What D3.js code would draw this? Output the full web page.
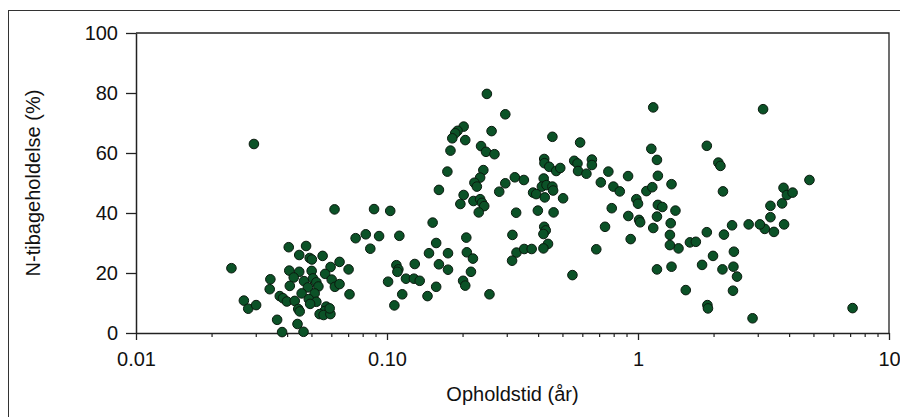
<!DOCTYPE html>
<html>
<head>
<meta charset="utf-8">
<script src="https://cdn.jsdelivr.net/npm/d3@7"></script>
<style>
  html, body { margin: 0; padding: 0; background: #fff; }
  svg { display: block; }
  text { font-family: "Liberation Sans", Arial, sans-serif; fill: #111; }
</style>
</head>
<body>
<svg id="chart" width="900" height="417"></svg>
<script>
// Residence time (years) and N retention (%) per lake
const residenceTime = [
  0.024, 0.0269, 0.028, 0.0301, 0.0343, 0.0341, 0.0365, 0.0382, 0.0406, 0.0476,
  0.0447, 0.0492, 0.0502, 0.0554, 0.0596, 0.0647, 0.0408, 0.0447, 0.0501, 0.0567,
  0.0425, 0.0467, 0.0507, 0.0523, 0.0602, 0.062, 0.0647, 0.041, 0.0484, 0.0533,
  0.0374, 0.0385, 0.0399, 0.0429, 0.0457, 0.0515, 0.0488, 0.0523, 0.0494, 0.0443,
  0.0449, 0.0573, 0.0564, 0.0539, 0.0559, 0.0595, 0.044, 0.0465, 0.0591, 0.0295,
  0.0618, 0.0888, 0.103, 0.075, 0.0823, 0.093, 0.0858, 0.112, 0.0703, 0.0709,
  0.109, 0.111, 0.110, 0.129, 0.101, 0.119, 0.128, 0.135, 0.115, 0.107,
  0.145, 0.157, 0.152, 0.157, 0.147, 0.175, 0.161, 0.175, 0.161,
  0.250, 0.296, 0.202, 0.191, 0.187, 0.182, 0.205, 0.261, 0.179, 0.237,
  0.248, 0.268, 0.456, 0.174, 0.242, 0.235, 0.223, 0.228, 0.202, 0.196,
  0.221, 0.235, 0.239, 0.244, 0.232, 0.280, 0.296, 0.323, 0.351, 0.327,
  0.423, 0.424, 0.443, 0.472, 0.490, 0.421, 0.414, 0.432, 0.456, 0.459,
  0.382, 0.393, 0.425, 0.399, 0.461, 0.207, 0.208, 0.220, 0.216, 0.201,
  0.205, 0.256, 0.316, 0.328, 0.352, 0.377, 0.315, 0.423, 0.429, 0.420,
  0.438, 0.420, 0.503, 0.588, 0.557, 0.574, 0.577, 0.623, 0.655, 0.655,
  0.762, 0.711, 0.798, 0.846, 0.913, 0.985, 1.00, 0.786, 0.915, 1.01,
  1.02, 0.739, 0.935, 0.682, 0.548, 1.15, 1.13, 1.19, 1.20, 1.08,
  1.14, 1.20, 1.15, 1.19, 1.19, 3.15, 1.88, 2.09, 2.13, 1.36,
  2.18, 4.82, 3.80, 3.92, 4.13, 3.75, 3.37, 3.37, 3.82, 3.48,
  3.20, 3.06, 2.76, 2.37, 2.20, 2.41, 1.99, 1.80, 2.17, 2.40,
  2.48, 2.39, 1.55, 1.89, 1.90, 2.86, 7.16, 1.88, 1.61, 1.70,
  1.45, 1.34, 1.34, 1.35, 1.41, 1.25, 1.36
];

const nRetention = [
  21.6, 10.8, 8.1, 9.3, 17.9, 14.6, 4.4, 0.3, 28.6, 29.0,
  26.0, 25.0, 24.5, 25.7, 22.0, 23.7, 20.8, 20.4, 20.7, 19.7,
  18.5, 17.3, 18.2, 16.9, 17.8, 15.4, 16.3, 15.7, 15.2, 15.5,
  12.3, 11.6, 10.5, 10.7, 13.2, 13.2, 11.3, 10.4, 9.7, 8.0,
  7.2, 8.8, 7.3, 6.3, 6.0, 6.3, 3.0, 0.4, 8.2, 63.0,
  41.2, 41.3, 40.7, 31.6, 32.9, 32.3, 28.1, 32.4, 21.2, 12.9,
  22.6, 21.2, 20.4, 23.0, 17.1, 18.1, 18.1, 17.4, 12.9, 9.2,
  12.3, 15.4, 36.8, 30.0, 26.6, 26.6, 22.9, 21.1, 47.7,
  79.7, 72.9, 68.8, 67.4, 66.6, 64.9, 64.3, 67.3, 60.8, 62.3,
  60.4, 59.6, 65.4, 53.8, 54.3, 51.8, 50.1, 48.8, 46.0, 43.0,
  44.0, 44.6, 43.4, 42.3, 40.2, 47.1, 49.9, 51.9, 51.0, 40.1,
  58.0, 56.6, 55.4, 54.0, 55.0, 51.5, 48.8, 49.3, 48.8, 47.5,
  46.8, 46.3, 45.2, 40.8, 40.2, 31.8, 26.9, 24.8, 20.4, 17.4,
  15.8, 12.9, 32.7, 26.8, 28.0, 28.0, 24.1, 35.4, 34.2, 33.0,
  29.7, 28.2, 44.9, 63.5, 57.4, 56.5, 54.0, 53.1, 57.8, 56.0,
  53.8, 50.2, 48.8, 47.2, 52.3, 44.6, 43.1, 41.6, 39.0, 37.7,
  36.9, 35.4, 31.3, 27.9, 19.3, 75.2, 61.4, 57.7, 52.4, 47.3,
  48.6, 42.7, 35.0, 38.8, 21.2, 74.6, 62.4, 56.8, 55.7, 49.6,
  47.2, 51.0, 48.4, 46.0, 46.8, 43.2, 42.4, 38.6, 36.2, 33.7,
  34.7, 36.2, 36.2, 35.9, 32.8, 27.1, 25.7, 22.7, 21.2, 22.1,
  18.8, 14.1, 14.3, 9.3, 8.2, 4.9, 8.3, 33.6, 30.2, 30.4,
  28.2, 29.3, 32.7, 36.6, 40.8, 42.0, 22.1
];

const xMajorTicks = [0.01, 0.1, 1, 10];
const xMajorLabels = ["0.01", "0.10", "1", "10"];
const yTicks = [0, 20, 40, 60, 80, 100];

const xTitle = "Opholdstid (år)";
const yTitle = "N-tibageholdelse (%)";

const svg = d3.select("#chart");
const plot = { left: 136, right: 889, top: 33, bottom: 333 };

const x = d3.scaleLog().domain([0.01, 10]).range([plot.left, plot.right]);
const y = d3.scaleLinear().domain([0, 100]).range([plot.bottom, plot.top]);

// outer frame
svg.append("rect")
  .attr("x", 8.5).attr("y", 10.5)
  .attr("width", 900).attr("height", 420)
  .attr("fill", "none").attr("stroke", "#333").attr("stroke-width", 1);

// top and right edges of the plot box
svg.append("path")
  .attr("d", `M${plot.left},${plot.top}H${plot.right}V${plot.bottom}`)
  .attr("fill", "none").attr("stroke", "#222").attr("stroke-width", 1.3);

// minor log ticks (2..9 in each decade)
const minorTicks = [];
[0.01, 0.1, 1].forEach(dec => {
  for (let k = 2; k <= 9; k++) minorTicks.push(dec * k);
});

const fontSize = 20;

svg.append("g")
  .attr("transform", `translate(0,${plot.bottom})`)
  .call(d3.axisBottom(x).tickValues(minorTicks).tickSize(4).tickFormat(""))
  .call(g => g.select(".domain").remove())
  .selectAll("line").attr("stroke", "#222").attr("stroke-width", 1.2);

const xAxis = svg.append("g")
  .attr("transform", `translate(0,${plot.bottom})`)
  .call(d3.axisBottom(x).tickValues(xMajorTicks).tickSize(7).tickSizeOuter(0)
    .tickPadding(12).tickFormat((d, i) => xMajorLabels[i]));
xAxis.select(".domain").attr("stroke", "#222").attr("stroke-width", 1.5);
xAxis.selectAll("line").attr("stroke", "#222").attr("stroke-width", 1.3);
xAxis.selectAll("text").attr("font-size", fontSize).attr("fill", "#111")
  .attr("font-family", "Liberation Sans, Arial, sans-serif");

const yAxis = svg.append("g")
  .attr("transform", `translate(${plot.left},0)`)
  .call(d3.axisLeft(y).tickValues(yTicks).tickSize(10).tickSizeOuter(0).tickPadding(8));
yAxis.select(".domain").attr("stroke", "#222").attr("stroke-width", 1.5);
yAxis.selectAll("line").attr("stroke", "#222").attr("stroke-width", 1.3);
yAxis.selectAll("text").attr("font-size", fontSize).attr("fill", "#111")
  .attr("font-family", "Liberation Sans, Arial, sans-serif");

// axis titles
svg.append("text")
  .attr("x", (plot.left + plot.right) / 2).attr("y", 401)
  .attr("text-anchor", "middle").attr("font-size", fontSize)
  .text(xTitle);

svg.append("text")
  .attr("transform", `translate(40,${(plot.top + plot.bottom) / 2}) rotate(-90)`)
  .attr("text-anchor", "middle").attr("font-size", fontSize)
  .text(yTitle);

// points
svg.append("g")
  .selectAll("circle")
  .data(residenceTime.map((t, i) => ({ t, n: nRetention[i] })))
  .join("circle")
  .attr("cx", d => x(d.t))
  .attr("cy", d => y(d.n))
  .attr("r", 4.8)
  .attr("fill", "#0b5227")
  .attr("stroke", "#0a1a0e")
  .attr("stroke-width", 1);
</script>
</body>
</html>
